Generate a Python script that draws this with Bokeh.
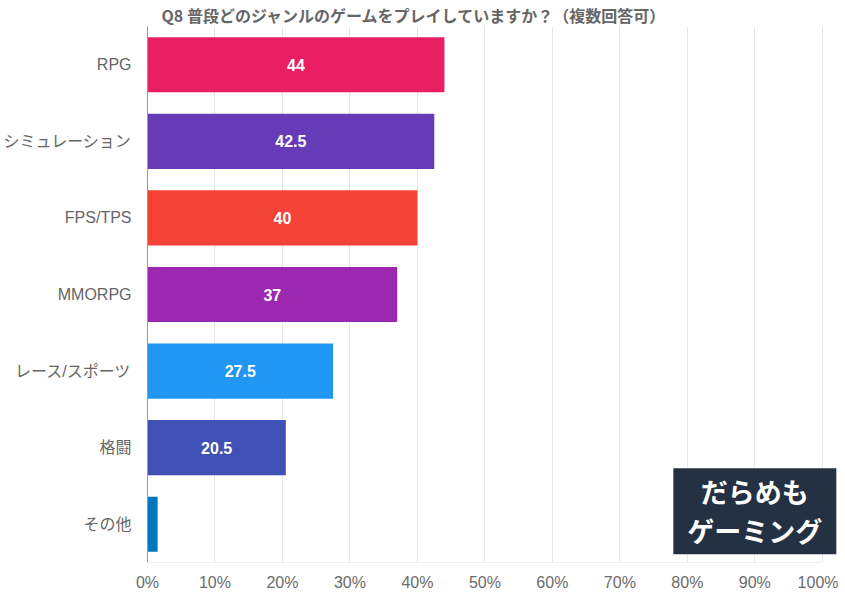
from bokeh.plotting import figure
from bokeh.models import ColumnDataSource, FactorRange, Range1d, FixedTicker, PrintfTickFormatter, Label, LabelSet
from bokeh.core.properties import value
from bokeh.embed import file_html
from bokeh.resources import INLINE

title = "Q8 普段どのジャンルのゲームをプレイしていますか？（複数回答可）"
categories = ["RPG", "シミュレーション", "FPS/TPS", "MMORPG", "レース/スポーツ", "格闘", "その他"]
values = [44, 42.5, 40, 37, 27.5, 20.5, 1.5]
colors = ["#E91E63", "#673AB7", "#F44336", "#9C27B0", "#2196F3", "#3F51B5", "#0277BD"]
x_ticks = [0, 10, 20, 30, 40, 50, 60, 70, 80, 90, 100]
logo_text = "だらめも\nゲーミング"

labels = [f"{v:g}" if v >= 5 else "" for v in values]
mids = [v / 2 for v in values]
source = ColumnDataSource(dict(cat=categories, val=values, color=colors, label=labels, mid=mids))

JP = "Noto Sans CJK JP"
LAT = "'Liberation Sans', 'Noto Sans CJK JP'"

x_end = 102.4
p = figure(
    y_range=FactorRange(factors=list(reversed(categories))),
    x_range=Range1d(0, x_end),
    frame_width=691, frame_height=536,
    min_border_left=138, min_border_right=0, min_border_top=0, min_border_bottom=0,
    output_backend="svg", toolbar_location=None,
    title=title,
)
p.title.text_font = JP
p.title.text_font_size = "16px"
p.title.text_font_style = "bold"
p.title.text_color = "#666666"
p.title.align = "left"
p.title.offset = 14
p.title.standoff = 0

p.hbar(y="cat", right="val", left=0, height=0.72, color="color", source=source, line_color=None)

# baseline from 0% to 100%
p.segment(x0=[x_ticks[0]], x1=[x_ticks[-1]], y0=[0], y1=[0], line_color="#dddddd", line_width=1)

p.add_layout(LabelSet(x="mid", y="cat", text="label", source=source,
                      text_align="center", text_baseline="middle",
                      text_color="white", text_font=value("Liberation Sans"),
                      text_font_style="bold", text_font_size="16px"))

logo = Label(x=90.0, y=0.67, text=logo_text, text_align="center", text_baseline="middle",
             text_color="white", text_font=JP, text_font_style="bold",
             text_font_size="27px", background_fill_color="#243142",
             padding=dict(left=14, right=14, top=4, bottom=4), text_line_height=1.0)
p.add_layout(logo)

p.xaxis.ticker = FixedTicker(ticks=x_ticks)
p.xaxis.formatter = PrintfTickFormatter(format="%d%%")
p.xaxis.major_label_text_font = "Liberation Sans"
p.xaxis.major_label_text_font_size = "16px"
p.xaxis.major_label_text_color = "#6b6b6b"
p.xaxis.axis_line_color = None
p.xaxis.major_tick_line_color = None
p.xaxis.minor_tick_line_color = None
p.xaxis.major_label_standoff = 5

p.yaxis.major_label_text_font = LAT
p.yaxis.major_label_text_font_size = "16px"
p.yaxis.major_label_text_color = "#666666"
p.yaxis.axis_line_color = "#999999"
p.yaxis.major_tick_line_color = None
p.yaxis.minor_tick_line_color = None
p.yaxis.major_label_standoff = 10

p.xgrid.grid_line_color = "#e6e6e6"
p.ygrid.grid_line_color = None
p.outline_line_color = None
p.background_fill_color = "white"
p.border_fill_color = "white"

open("out.html", "w").write(file_html(p, INLINE))
